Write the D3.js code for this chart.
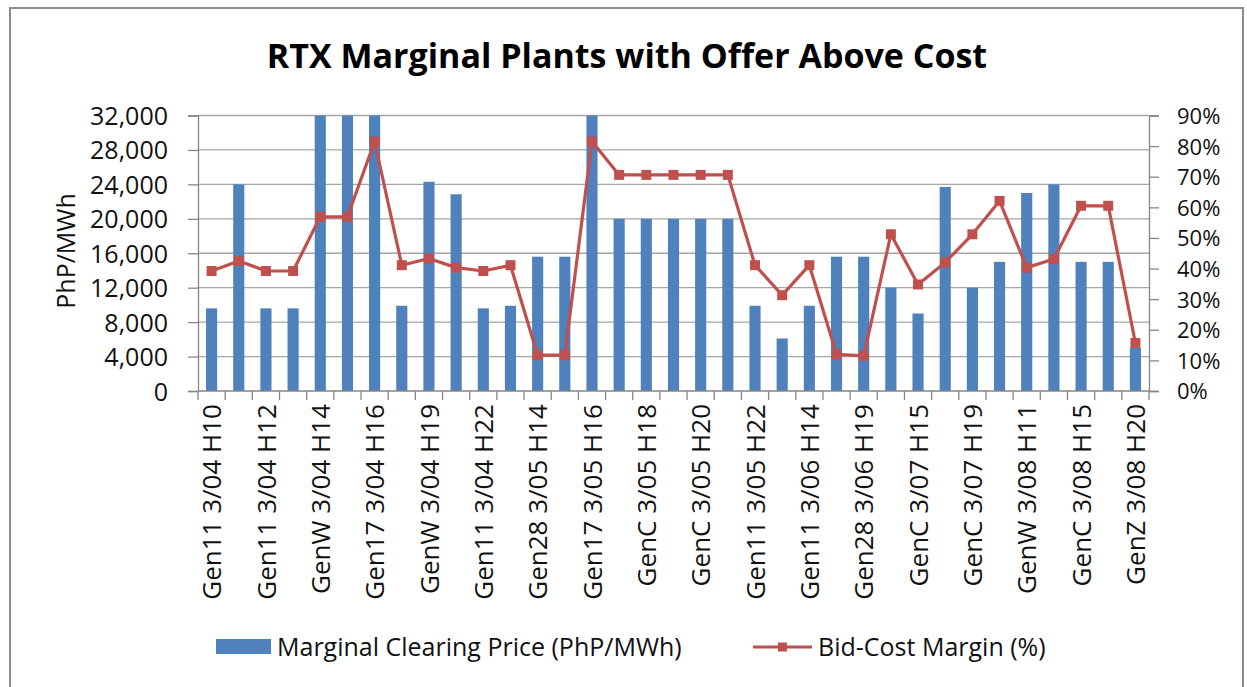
<!DOCTYPE html>
<html>
<head>
<meta charset="utf-8">
<script src="https://cdn.jsdelivr.net/npm/d3@7"></script>
<style>
  html, body { margin: 0; padding: 0; background: #fff; }
  svg { display: block; font-family: "Open Sans", sans-serif; }
</style>
</head>
<body>
<svg id="chart" width="1247" height="687"></svg>
<script>
// ---- data ----
const categories = [
  "Gen11 3/04 H10", "Gen11 3/04 H11", "Gen11 3/04 H12", "Gen11 3/04 H13",
  "GenW 3/04 H14", "GenW 3/04 H15", "Gen17 3/04 H16", "Gen11 3/04 H17",
  "GenW 3/04 H19", "GenW 3/04 H20", "Gen11 3/04 H22", "Gen11 3/04 H23",
  "Gen28 3/05 H14", "Gen28 3/05 H15", "Gen17 3/05 H16", "GenC 3/05 H17",
  "GenC 3/05 H18", "GenC 3/05 H19", "GenC 3/05 H20", "GenC 3/05 H21",
  "Gen11 3/05 H22", "Gen11 3/05 H23", "Gen11 3/06 H14", "Gen28 3/06 H18",
  "Gen28 3/06 H19", "GenC 3/07 H14", "GenC 3/07 H15", "GenC 3/07 H18",
  "GenC 3/07 H19", "GenW 3/08 H10", "GenW 3/08 H11", "GenW 3/08 H12",
  "GenC 3/08 H15", "GenC 3/08 H16", "GenZ 3/08 H20"
];
const clearingPrice = [
  9600, 24000, 9600, 9600, 32000, 32000, 32000, 9900,
  24300, 22850, 9600, 9900, 15600, 15600, 32000, 20000,
  20000, 20000, 20000, 20000, 9900, 6100, 9900, 15600,
  15600, 12000, 9000, 23700, 12000, 15000, 23000, 24000,
  15000, 15000, 5000
];
const bidCostMargin = [
  39.2, 42.5, 39.2, 39.2, 56.9, 56.9, 81.5, 41.1,
  43.3, 40.3, 39.2, 41.1, 11.7, 11.7, 81.5, 70.6,
  70.6, 70.6, 70.6, 70.6, 41.1, 31.3, 41.1, 12.0,
  11.5, 51.2, 34.8, 42.0, 51.2, 62.1, 40.3, 43.1,
  60.5, 60.5, 15.7
];
const leftTicks = [0, 4000, 8000, 12000, 16000, 20000, 24000, 28000, 32000];
const rightTicks = [0, 10, 20, 30, 40, 50, 60, 70, 80, 90];
const titleText = "RTX Marginal Plants with Offer Above Cost";
const yTitle = "PhP/MWh";
const legendLabels = ["Marginal Clearing Price (PhP/MWh)", "Bid-Cost Margin (%)"];

// ---- layout ----
const svg = d3.select("#chart");
const X0 = 198, X1 = 1149, YT = 115.5, YB = 391;
const barColor = "#4f81bd", lineColor = "#c0504d";
const gridColor = "#a6a6a6", axisColor = "#868686", textColor = "#111";

// border
svg.append("rect").attr("x", 10).attr("y", 8).attr("width", 1233).attr("height", 690)
  .attr("fill", "#fff").attr("stroke", "#8c8c8c").attr("stroke-width", 2);

const x = d3.scaleBand().domain(categories).range([X0, X1]).padding(0);
const yL = d3.scaleLinear().domain([0, 32000]).range([YB, YT]);
const yR = d3.scaleLinear().domain([0, 90]).range([YB, YT]);

// gridlines
svg.append("g").selectAll("line").data(leftTicks.filter(d => d > 0)).join("line")
  .attr("x1", X0).attr("x2", X1)
  .attr("y1", d => yL(d)).attr("y2", d => yL(d))
  .attr("stroke", gridColor).attr("stroke-width", 1.3);

// bars
const bw = x.bandwidth() * 0.41;
svg.append("g").selectAll("rect").data(categories).join("rect")
  .attr("x", (d) => x(d) + x.bandwidth() / 2 - bw / 2)
  .attr("width", bw)
  .attr("y", (d, i) => yL(Math.min(clearingPrice[i], 32000)))
  .attr("height", (d, i) => YB - yL(Math.min(clearingPrice[i], 32000)))
  .attr("fill", barColor);

// left axis
const gL = svg.append("g").attr("transform", `translate(${X0},0)`)
  .call(d3.axisLeft(yL).tickValues(leftTicks).tickSize(10).tickPadding(20)
    .tickFormat(d3.format(",")));
gL.select(".domain").attr("stroke", axisColor).attr("stroke-width", 1.3);
gL.selectAll(".tick line").attr("stroke", axisColor).attr("stroke-width", 1.3);
gL.selectAll(".tick text").attr("font-size", 25).attr("fill", textColor)
  .attr("font-family", "Open Sans, sans-serif").attr("dy", "0.36em");

// right axis
const gR = svg.append("g").attr("transform", `translate(${X1},0)`)
  .call(d3.axisRight(yR).tickValues(rightTicks).tickSize(10).tickPadding(18)
    .tickFormat(d => d + "%"));
gR.select(".domain").attr("stroke", axisColor).attr("stroke-width", 1.3);
gR.selectAll(".tick line").attr("stroke", axisColor).attr("stroke-width", 1.3);
gR.selectAll(".tick text").attr("font-size", 22).attr("fill", textColor)
  .attr("font-family", "Open Sans, sans-serif").attr("dy", "0.36em");

// bottom axis: ticks at category boundaries
const gB = svg.append("g");
gB.append("line").attr("x1", X0).attr("x2", X1).attr("y1", YB).attr("y2", YB)
  .attr("stroke", axisColor).attr("stroke-width", 1.3);
const bounds = categories.map(d => x(d)).concat([X1]);
gB.selectAll("line.tk").data(bounds).join("line").attr("class", "tk")
  .attr("x1", d => d).attr("x2", d => d).attr("y1", YB).attr("y2", YB + 9)
  .attr("stroke", axisColor).attr("stroke-width", 1.3);
gB.selectAll("text").data(categories.filter((d, i) => i % 2 === 0)).join("text")
  .attr("transform", d => `translate(${x(d) + x.bandwidth() / 2},${YB + 13}) rotate(-90)`)
  .attr("dy", "0.37em")
  .attr("text-anchor", "end")
  .attr("font-size", 26)
  .attr("fill", textColor)
  .text(d => d);

// line
const line = d3.line()
  .x((d, i) => x(categories[i]) + x.bandwidth() / 2)
  .y(d => yR(d));
svg.append("path").datum(bidCostMargin).attr("d", line)
  .attr("fill", "none").attr("stroke", lineColor).attr("stroke-width", 3.2)
  .attr("stroke-linejoin", "round");
svg.append("g").selectAll("rect").data(bidCostMargin).join("rect")
  .attr("x", (d, i) => x(categories[i]) + x.bandwidth() / 2 - 5)
  .attr("y", d => yR(d) - 5)
  .attr("width", 10).attr("height", 10)
  .attr("fill", lineColor);

// title
svg.append("text").attr("x", 627).attr("y", 68).attr("text-anchor", "middle")
  .attr("font-size", 34).attr("font-weight", "bold").attr("fill", "#000")
  .text(titleText);

// y axis title
svg.append("text")
  .attr("transform", "translate(75,251) rotate(-90)")
  .attr("text-anchor", "middle").attr("font-size", 25).attr("fill", textColor)
  .text(yTitle);

// legend
const lg = svg.append("g");
lg.append("rect").attr("x", 216).attr("y", 639).attr("width", 55).attr("height", 15)
  .attr("fill", barColor);
lg.append("text").attr("x", 277).attr("y", 647).attr("dy", "0.36em")
  .attr("font-size", 25).attr("fill", textColor).text(legendLabels[0]);
lg.append("line").attr("x1", 753).attr("x2", 812).attr("y1", 647).attr("y2", 647)
  .attr("stroke", lineColor).attr("stroke-width", 3.2);
lg.append("rect").attr("x", 778).attr("y", 642.5).attr("width", 9).attr("height", 9)
  .attr("fill", lineColor);
lg.append("text").attr("x", 818).attr("y", 647).attr("dy", "0.36em")
  .attr("font-size", 25).attr("fill", textColor).text(legendLabels[1]);
</script>
</body>
</html>
